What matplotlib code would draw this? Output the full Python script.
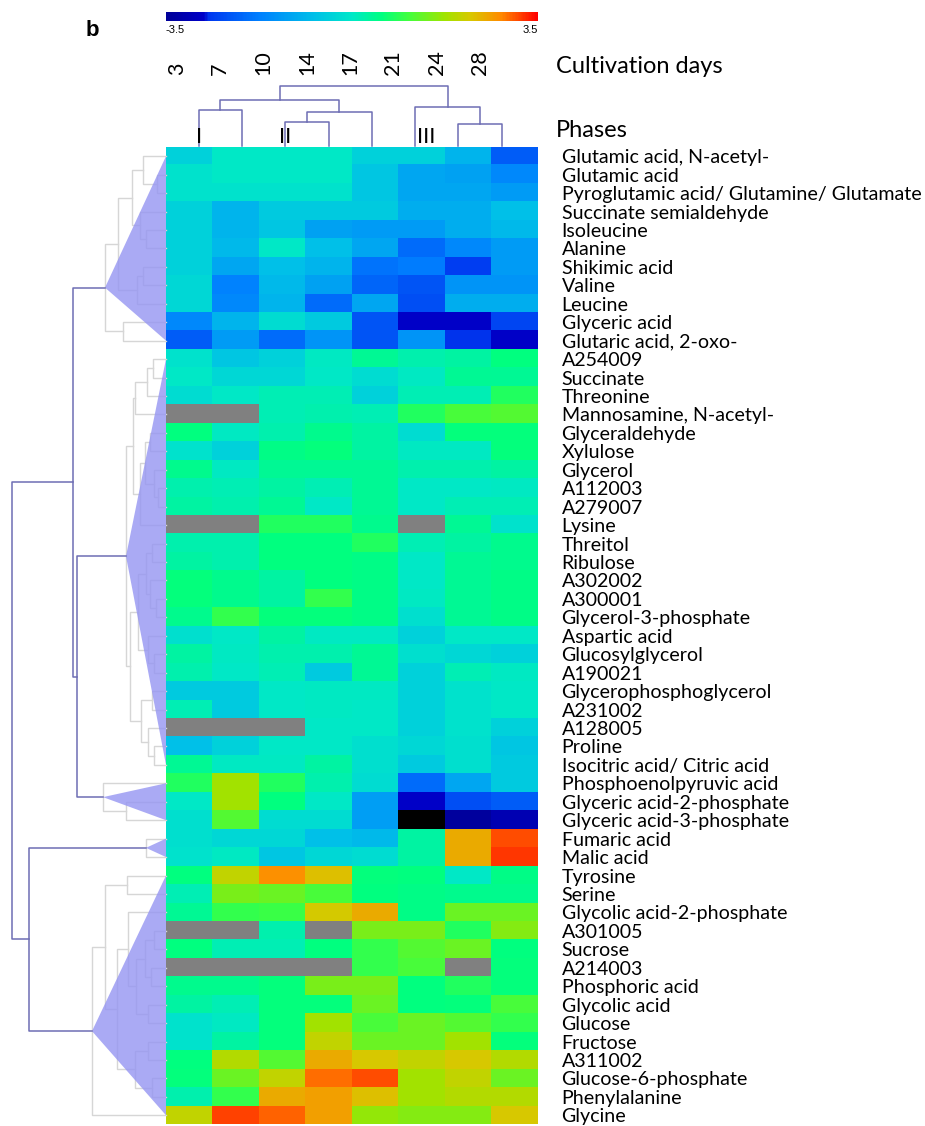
import numpy as np
import matplotlib.pyplot as plt
from matplotlib.colors import LinearSegmentedColormap
from matplotlib.patches import Polygon
from matplotlib.cm import ScalarMappable
from matplotlib.colors import Normalize

days = ['3', '7', '10', '14', '17', '21', '24', '28']
phases = ['I', 'II', 'III']

metabolites = [
    'Glutamic acid, N-acetyl-', 'Glutamic acid', 'Pyroglutamic acid/ Glutamine/ Glutamate',
    'Succinate semialdehyde', 'Isoleucine', 'Alanine', 'Shikimic acid', 'Valine', 'Leucine',
    'Glyceric acid', 'Glutaric acid, 2-oxo-',
    'A254009', 'Succinate', 'Threonine', 'Mannosamine, N-acetyl-', 'Glyceraldehyde', 'Xylulose',
    'Glycerol', 'A112003', 'A279007', 'Lysine', 'Threitol', 'Ribulose', 'A302002', 'A300001',
    'Glycerol-3-phosphate', 'Aspartic acid', 'Glucosylglycerol', 'A190021',
    'Glycerophosphoglycerol', 'A231002', 'A128005', 'Proline', 'Isocitric acid/ Citric acid',
    'Phosphoenolpyruvic acid', 'Glyceric acid-2-phosphate', 'Glyceric acid-3-phosphate',
    'Fumaric acid', 'Malic acid',
    'Tyrosine', 'Serine', 'Glycolic acid-2-phosphate', 'A301005', 'Sucrose', 'A214003',
    'Phosphoric acid', 'Glycolic acid', 'Glucose', 'Fructose', 'A311002', 'Glucose-6-phosphate',
    'Phenylalanine', 'Glycine',
]

nan = np.nan
# log-ratio values per metabolite and day (nan = not detected, -9 = below scale)
cluster_a = [
    [-0.4, 0.0, 0.0, 0.0, -0.4, -0.4, -0.9, -2.2],
    [-0.1, 0.0, 0.0, 0.0, -0.6, -1.1, -1.2, -1.6],
    [-0.1, -0.1, -0.1, -0.1, -0.6, -1.1, -1.1, -1.3],
    [-0.4, -0.9, -0.5, -0.5, -0.5, -1.0, -1.0, -0.7],
    [-0.4, -0.9, -0.6, -1.2, -1.3, -1.3, -1.0, -0.8],
    [-0.4, -0.8, 0.0, -0.7, -1.1, -2.0, -1.6, -1.3],
    [-0.4, -1.1, -0.7, -0.9, -1.9, -1.8, -2.6, -1.3],
    [-0.3, -1.7, -0.8, -1.2, -2.1, -2.3, -1.4, -1.4],
    [-0.3, -1.6, -0.9, -2.0, -1.1, -2.4, -1.0, -1.0],
    [-1.6, -0.9, -0.2, -0.5, -2.3, -2.8, -2.8, -2.5],
    [-2.2, -1.3, -2.0, -1.4, -2.3, -1.4, -2.7, -2.8],
]
cluster_b = [
    [-0.1, -0.6, -0.4, 0.05, 0.4, 0.2, 0.3, 0.55],
    [0.0, -0.3, -0.3, 0.0, -0.2, 0.05, 0.4, 0.4],
    [-0.2, 0.0, 0.15, 0.15, -0.4, 0.15, 0.15, 0.8],
    [nan, nan, 0.15, 0.2, 0.15, 0.8, 1.1, 1.2],
    [0.55, 0.05, 0.2, 0.45, 0.3, -0.2, 0.6, 0.6],
    [-0.1, -0.4, 0.5, 0.6, 0.3, 0.05, 0.05, 0.6],
    [0.45, 0.05, 0.4, 0.4, 0.4, 0.2, 0.2, 0.3],
    [0.2, 0.15, 0.3, 0.15, 0.4, 0.0, 0.0, 0.05],
    [0.3, 0.2, 0.4, 0.0, 0.4, 0.0, 0.15, 0.15],
    [nan, nan, 0.8, 0.8, 0.45, nan, 0.4, -0.1],
    [0.2, 0.2, 0.55, 0.55, 0.8, 0.15, 0.3, 0.45],
    [0.3, 0.2, 0.55, 0.55, 0.5, 0.0, 0.4, 0.45],
    [0.6, 0.45, 0.3, 0.55, 0.5, 0.0, 0.4, 0.5],
    [0.6, 0.45, 0.3, 0.95, 0.5, 0.05, 0.4, 0.5],
    [0.45, 0.95, 0.6, 0.6, 0.5, -0.15, 0.4, 0.5],
    [-0.15, 0.0, 0.3, 0.05, 0.05, -0.4, 0.0, 0.0],
    [0.3, 0.05, 0.2, 0.2, 0.4, -0.15, -0.3, -0.4],
    [0.2, 0.0, 0.15, -0.5, 0.4, -0.4, 0.15, 0.05],
    [-0.5, -0.5, 0.0, 0.05, 0.05, -0.4, -0.1, 0.0],
    [0.15, -0.5, 0.0, 0.05, 0.0, -0.4, -0.1, 0.0],
    [nan, nan, nan, 0.0, 0.0, -0.4, -0.1, -0.4],
    [-0.7, -0.4, 0.0, 0.0, -0.15, -0.3, -0.15, -0.6],
    [0.4, 0.05, 0.05, 0.3, -0.15, -0.5, -0.15, -0.5],
]
cluster_c = [
    [0.8, 1.75, 0.8, 0.2, -0.2, -2.0, -1.1, -0.5],
    [0.0, 1.75, 0.55, 0.0, -1.25, -2.8, -2.4, -2.2],
    [-0.15, 1.2, -0.2, -0.2, -1.25, -9.0, -3.4, -3.1],
]
cluster_d = [
    [-0.15, -0.3, -0.3, -0.7, -0.8, 0.3, 2.5, 3.1],
    [-0.1, 0.05, -0.6, -0.3, -0.2, 0.3, 2.5, 3.2],
]
cluster_e = [
    [0.55, 2.05, 2.75, 2.3, 0.6, 0.55, 0.0, 0.5],
    [0.15, 1.45, 1.35, 1.1, 0.55, 0.5, 0.45, 0.45],
    [0.4, 0.95, 1.0, 2.2, 2.5, 0.5, 1.35, 1.35],
    [nan, nan, 0.2, nan, 1.45, 1.45, 0.8, 1.55],
    [0.55, 0.15, 0.15, 0.55, 0.95, 1.2, 1.35, 0.55],
    [nan, nan, nan, nan, 0.95, 1.1, nan, 0.6],
    [0.45, 0.45, 0.6, 1.45, 1.45, 0.55, 0.8, 0.6],
    [0.3, 0.15, 0.6, 0.6, 1.35, 0.55, 0.6, 1.1],
    [-0.1, 0.05, 0.6, 1.75, 1.1, 1.35, 1.2, 0.95],
    [-0.1, 0.3, 0.6, 2.05, 1.35, 1.35, 1.75, 0.6],
    [0.55, 1.9, 1.2, 2.5, 2.24, 2.05, 2.24, 1.9],
    [0.6, 1.35, 2.05, 2.95, 3.1, 1.75, 2.05, 1.35],
    [0.2, 0.95, 2.5, 2.6, 2.3, 1.75, 1.9, 1.9],
    [2.05, 3.15, 3.0, 2.6, 1.65, 1.55, 1.55, 2.24],
]

# row clustering: (height, left, right), leaves are row indices
row_subtrees = {
    'A': (61, (48, (34, (23, 0, (9, 1, 2)), (26, 3, (20, 4, 5))), (29, (23, 6, 7), 8)), (43, 9, 10)),
    'B': (40,
          (33, (31, (19, (13, 11, 12), 13), 14), (26, (21, (16, 15, 16), (12, 17, (8, 18, 19))), 20)),
          (36, (28, (20, (14, 21, 22), (16, 23, (10, 24, 25))), (18, 26, (12, 27, 28))),
           (25, (14, 29, 30), (18, 31, (12, 32, 33))))),
    'C': (63, 34, (40, 35, 36)),
    'D': (20, 37, 38),
    'E': (74, (61, (39, 39, 40), (49, (38, 41, (30, (21, (12, 42, 43), (15, 44, 45)), (18, 46, 47))),
                                   (31, (18, 48, 49), (14, 50, 51)))), 52),
}
row_tree = (154, (93, 'A', (89, 'B', 'C')), (137, 'D', 'E'))
# column clustering
col_tree = (60, (46, (36, 0, 1), (34, (24, 2, 3), 4)), (39, 5, (22, 6, 7)))
phase_x = [0.5, 2.5, 5.75]

values = np.array(cluster_a + cluster_b + cluster_c + cluster_d + cluster_e, dtype=float)
n_rows, n_cols = values.shape

cmap = LinearSegmentedColormap.from_list('heat', [
    (0.0, '#000098'), (0.10, '#0000C8'), (0.115, '#0038F0'), (0.25, '#0080FF'),
    (0.40, '#00C0E8'), (0.50, '#00E8C8'), (0.58, '#00FF80'), (0.65, '#40FF40'),
    (0.75, '#A0E400'), (0.82, '#D8C800'), (0.90, '#FF8C00'), (1.0, '#FF0000')])
cmap.set_bad('#808080')
cmap.set_under('black')

W, H = 925, 1126
fig = plt.figure(figsize=(W / 100, H / 100), dpi=100)


def px_axes(x0, y0, x1, y1):
    return fig.add_axes([x0 / W, 1 - y1 / H, (x1 - x0) / W, (y1 - y0) / H])


label_font = 'Lato'
dark = '#6E6EB4'
light = '#D6D6D6'

# heatmap
ax = px_axes(166, 147, 538, 1124.5)
ax.imshow(np.ma.masked_invalid(values), cmap=cmap, vmin=-3.5, vmax=3.5, aspect='auto',
          interpolation='nearest', extent=(0, n_cols, n_rows, 0))
ax.set_yticks(np.arange(n_rows) + 0.5)
ax.set_yticklabels(metabolites, fontsize=14.1, family=label_font)
ax.tick_params(axis='y', length=0, pad=17, labelleft=False, labelright=True)
ax.set_xticks([])
for s in ax.spines.values():
    s.set_visible(False)

# row dendrogram
axl = px_axes(0, 147, 166, 1124.5)
axl.set_xlim(166, 0)
axl.set_ylim(n_rows, 0)
axl.axis('off')


def draw_tree(a, node, color, horizontal=True, lw=1.0):
    if isinstance(node, (int, np.integer)):
        return 0, node + 0.5
    h, left, right = node
    hl, pl = draw_tree(a, left, color, horizontal, lw)
    hr, pr = draw_tree(a, right, color, horizontal, lw)
    if horizontal:
        a.plot([hl, h, h, hr], [pl, pl, pr, pr], color=color, lw=lw, clip_on=False)
    else:
        a.plot([pl, pl, pr, pr], [hl, h, h, hr], color=color, lw=lw, clip_on=False)
    return h, (pl + pr) / 2


def leaves(node):
    if isinstance(node, (int, np.integer)):
        return [node]
    return leaves(node[1]) + leaves(node[2])


def draw_row_tree(a, node):
    if isinstance(node, str):
        sub = row_subtrees[node]
        h, pos = draw_tree(a, sub, light)
        lv = leaves(sub)
        tri = Polygon([(h, pos), (0, min(lv) + 0.5), (0, max(lv) + 0.5)], closed=True,
                      facecolor='#9595F2', alpha=0.8, edgecolor='none', zorder=3)
        a.add_patch(tri)
        return h, pos
    h, left, right = node
    hl, pl = draw_row_tree(a, left)
    hr, pr = draw_row_tree(a, right)
    a.plot([hl, h, h, hr], [pl, pl, pr, pr], color=dark, lw=1.1, zorder=4)
    return h, (pl + pr) / 2


draw_row_tree(axl, row_tree)

# column dendrogram
axt = px_axes(155.3, 86, 501.7, 146)
axt.set_xlim(-0.5, n_cols - 0.5)
axt.set_ylim(0, 60)
axt.axis('off')
draw_tree(axt, col_tree, dark, horizontal=False, lw=1.1)
for lab, x in zip(phases, phase_x):
    axt.text(x, 9, lab, ha='center', va='center', fontsize=16, family=label_font)
for i, d in enumerate(days):
    axt.text(i, 71, d, rotation=90, ha='center', va='bottom', fontsize=15.5, family=label_font)

fig.text(556 / W, 1 - 73 / H, 'Cultivation days', fontsize=17, family=label_font, va='baseline')
fig.text(556 / W, 1 - 137 / H, 'Phases', fontsize=17, family=label_font, va='baseline')

# colour scale
cax = px_axes(166, 12, 538, 21)
cb = fig.colorbar(ScalarMappable(norm=Normalize(-3.5, 3.5), cmap=cmap), cax=cax,
                  orientation='horizontal')
cb.outline.set_visible(False)
cb.set_ticks([])
fig.text(166 / W, 1 - 30 / H, '-3.5', fontsize=8, family='Liberation Sans', va='center', ha='left')
fig.text(538 / W, 1 - 30 / H, '3.5', fontsize=8, family='Liberation Sans', va='center', ha='right')
fig.text(86 / W, 1 - 36 / H, 'b', fontsize=16, fontweight='bold', family='Liberation Sans',
         va='baseline')

fig.savefig('out.png', dpi=100)
